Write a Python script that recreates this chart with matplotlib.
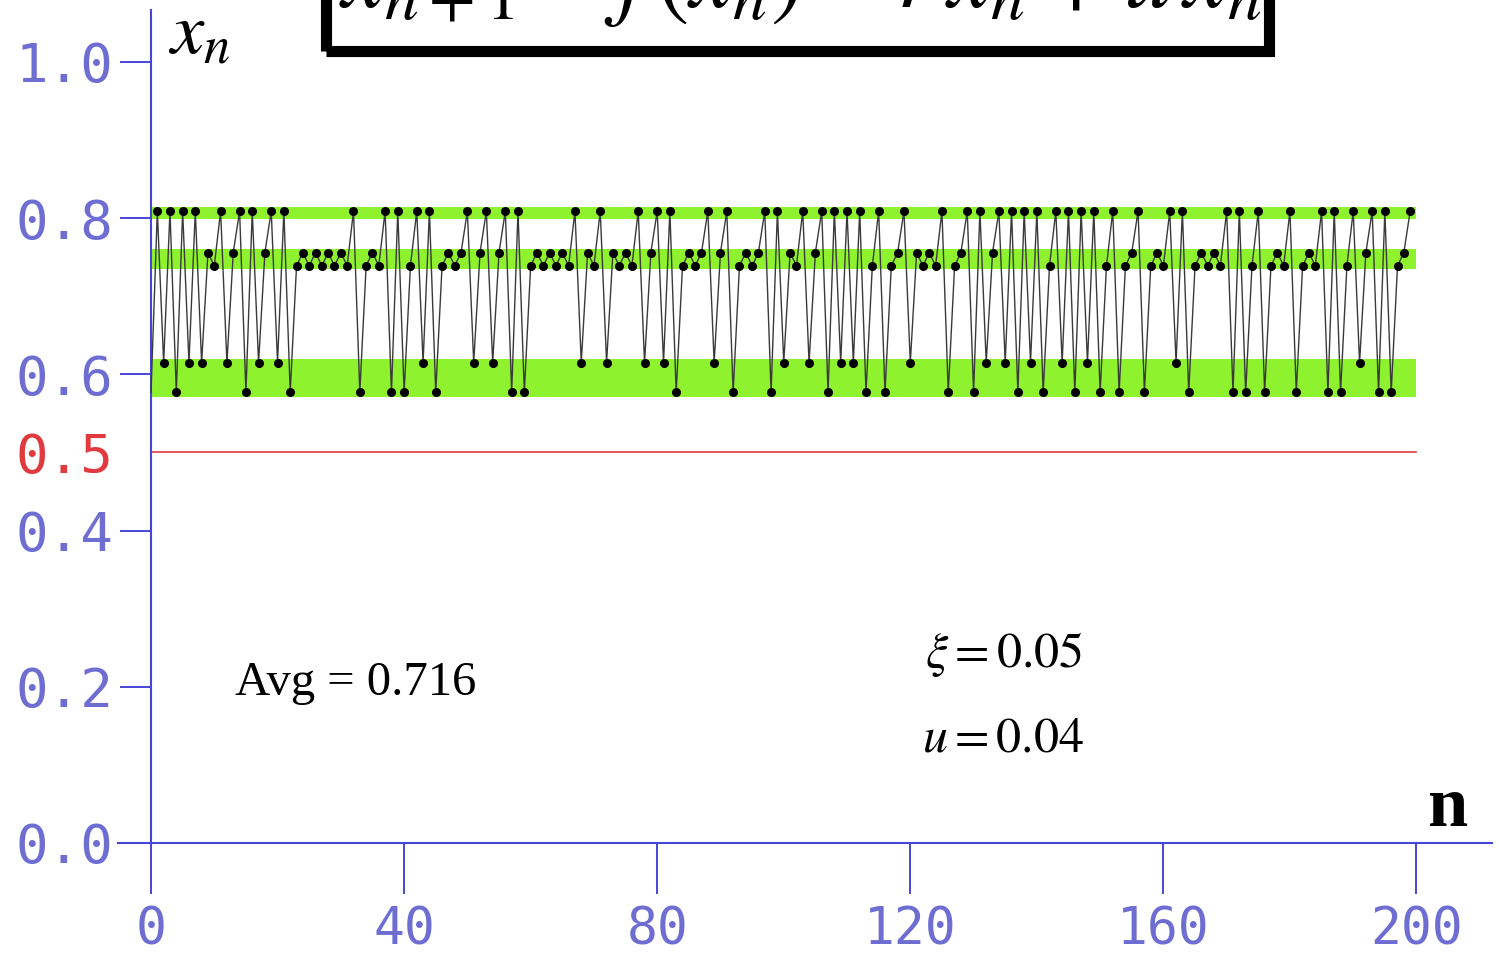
import matplotlib
matplotlib.use("Agg")
import matplotlib.pyplot as plt
from matplotlib.patches import Rectangle
import numpy as np

plt.rcParams['mathtext.fontset'] = 'stix'

# ---------------- data ----------------
# level values of the orbit
level_values = {'A': 0.809, 'B': 0.756, 'C': 0.739, 'D': 0.615, 'E': 0.577}
x0_value = 0.577
# orbit for n = 1 .. 199 as level codes
orbit_codes = ("ADAEADADBC" "ADBAEADBAD" "AECBCBCBCB" "CAECBCAEAE"
               "CADAECBCBA" "DBADBAEAEC" "BCBCBCADBC" "ADBCBCADBA"
               "DAECBCBADB" "AECBCBAEAD" "BCADBAEADA" "DAECAECBAD"
               "BCBCAECBAE" "ADBADAEADA" "ECADAEADAE" "CAECBAECBC"
               "ADAECBCBCA" "EAECAECBCA" "ECBCAEAECA" "DBAEAECBA")
band_lo = [0.799, 0.735, 0.571]
band_hi = [0.814, 0.760, 0.620]
x_ticks = [0, 40, 80, 120, 160, 200]
y_ticks = [0.0, 0.2, 0.4, 0.5, 0.6, 0.8, 1.0]
y_ticklabels = ['0.0', '0.2', '0.4', '0.5', '0.6', '0.8', '1.0']
threshold = 0.5
avg_text = 'Avg = 0.716'
xi_text = r'$\xi = 0.05$'
u_text = r'$u = 0.04$'
formula_text = r'$x_{n+1} = f\,(x_n) = r\,x_n + u\,x_n$'

orbit = [x0_value] + [level_values[c] for c in orbit_codes]
n = np.arange(len(orbit))

# ---------------- figure ----------------
W, H = 1499, 958
fig = plt.figure(figsize=(W / 100, H / 100), dpi=100)

def fx(px):
    return px / W

def fy(py):
    return 1 - py / H

ax_left, ax_right, ax_top, ax_bottom = 118, 1492, 10, 843
ax = fig.add_axes([fx(ax_left), fy(ax_bottom), (ax_right - ax_left) / W, (ax_bottom - ax_top) / H])

ppu_x = (1416.5 - 151) / 200.0
ppu_y = (843 - 62) / 1.0
ax.set_xlim((ax_left - 151) / ppu_x, (ax_right - 151) / ppu_x)
ax.set_ylim(0, (843 - ax_top) / ppu_y)

blue = '#4646d6'
label_blue = '#6e6ed2'
red = '#e0393e'
green = '#8ff22e'

for s in ['top', 'right']:
    ax.spines[s].set_visible(False)
ax.spines['left'].set_position(('data', 0))
ax.spines['left'].set_color(blue)
ax.spines['bottom'].set_color(blue)
ax.spines['left'].set_linewidth(1.5)
ax.spines['bottom'].set_linewidth(1.5)

# bands
for lo, hi in zip(band_lo, band_hi):
    ax.fill_between([0, 200], [lo, lo], [hi, hi], color=green, lw=0, zorder=1)

# threshold line
ax.plot([0, 200], [threshold, threshold], color=red, lw=1.2, zorder=2)

# orbit
ax.plot(n, orbit, color='#3a3a3a', lw=1.0, zorder=3)
ax.plot(n[1:], orbit[1:], 'o', color='black', ms=5.5, zorder=4)

mono = 'DejaVu Sans Mono'
ax.set_xticks(x_ticks)
ax.set_xticklabels([str(t) for t in x_ticks], family=mono)
ax.set_yticks(y_ticks)
ax.set_yticklabels(y_ticklabels, family=mono)
ax.tick_params(axis='x', direction='out', length=37, width=1.4, color=blue,
               labelcolor=label_blue, labelsize=37, pad=8)
ax.tick_params(axis='y', direction='out', length=22, width=1.4, color=blue,
               labelcolor=label_blue, labelsize=39, pad=5)
idx = y_ticks.index(threshold)
ytk = ax.yaxis.get_major_ticks()[idx]
ytk.tick1line.set_visible(False)
ytk.label1.set_color(red)

# labels
fig.text(fx(168), fy(55), r'$x_n$', fontsize=54, ha='left', va='baseline')
fig.text(fx(1428), fy(826), 'n', family='Liberation Serif', fontsize=52,
         fontweight='bold', ha='left', va='baseline')
fig.text(fx(235), fy(695), avg_text, family='Liberation Serif', fontsize=35,
         ha='left', va='baseline')
fig.text(fx(925), fy(667), xi_text, fontsize=36, ha='left', va='baseline')
fig.text(fx(922), fy(751), u_text, fontsize=36, ha='left', va='baseline')

# formula box (mostly cut off at the top, as in the reference)
rect = Rectangle((fx(326), fy(51)), fx(1269) - fx(326), fy(-40) - fy(51),
                 transform=fig.transFigure, fill=False, edgecolor='black',
                 linewidth=8, zorder=5)
fig.patches.append(rect)
fig.text(fx(800), fy(7), formula_text, fontsize=70, ha='center', va='baseline')

fig.savefig('out.png', dpi=100)
